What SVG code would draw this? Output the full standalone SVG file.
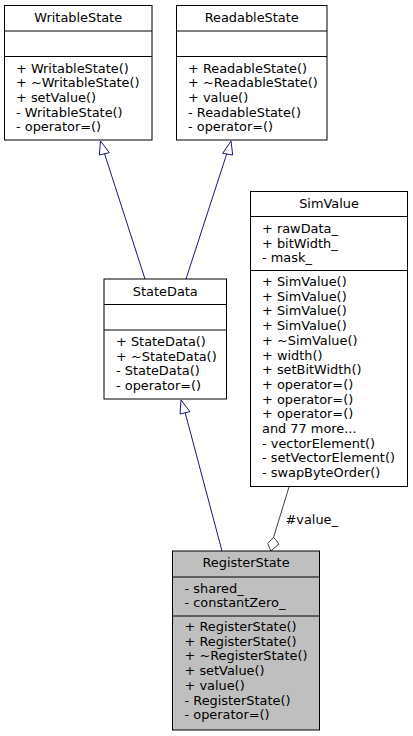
<svg xmlns="http://www.w3.org/2000/svg" width="413" height="736" viewBox="0 0 413 736">
<style>
text{font-family:"DejaVu Sans","Noto Sans",sans-serif;font-size:12.9px;fill:#000}
.t{text-anchor:middle}
.box{fill:#fff;stroke:#000;stroke-width:1}
.cur{fill:#bfbfbf;stroke:#000;stroke-width:1}
.sep{stroke:#000;stroke-width:1}
.inh{fill:none;stroke:#191970;stroke-width:1}
.ah{fill:#fff;stroke:#191970;stroke-width:1}
.use{fill:none;stroke:#404040;stroke-width:1}
.dia{fill:#fff;stroke:#404040;stroke-width:1}
</style>
<rect width="413" height="736" fill="#fff"/>
<g id="edges">
<path class="inh" d="M145,279 L104,152"/>
<polygon class="ah" points="100.5,141 99.3,155 109.3,152.7"/>
<path class="inh" d="M186,279 L227,153"/>
<polygon class="ah" points="231,141 222.7,153.3 232.7,155"/>
<path class="inh" d="M222,551 L185,412"/>
<polygon class="ah" points="181,400 180,414 190,411.7"/>
<path class="use" d="M289,487 L273.5,537.5"/>
<polygon class="dia" points="273.5,537.3 279,544 270.8,551 267.7,543.5"/>
<text x="285.5" y="523.5">#value_</text>
</g>
<g id="WritableState">
<rect class="box" x="4.5" y="5.5" width="147.5" height="134.5"/>
<line class="sep" x1="4.5" y1="31" x2="152" y2="31"/>
<line class="sep" x1="4.5" y1="56.5" x2="152" y2="56.5"/>
<text class="t" x="78.2" y="22">WritableState</text>
<text x="16" y="72.5">+ WritableState()</text>
<text x="16" y="87.2">+ ~WritableState()</text>
<text x="16" y="101.9">+ setValue()</text>
<text x="16" y="116.6">- WritableState()</text>
<text x="16" y="131.3">- operator=()</text>
</g>
<g id="ReadableState">
<rect class="box" x="176.5" y="5.5" width="150.5" height="134.5"/>
<line class="sep" x1="176.5" y1="31" x2="327" y2="31"/>
<line class="sep" x1="176.5" y1="56.5" x2="327" y2="56.5"/>
<text class="t" x="251.7" y="22">ReadableState</text>
<text x="188" y="72.5">+ ReadableState()</text>
<text x="188" y="87.2">+ ~ReadableState()</text>
<text x="188" y="101.9">+ value()</text>
<text x="188" y="116.6">- ReadableState()</text>
<text x="188" y="131.3">- operator=()</text>
</g>
<g id="StateData">
<rect class="box" x="104" y="279" width="122.5" height="120"/>
<line class="sep" x1="104" y1="304.5" x2="226.5" y2="304.5"/>
<line class="sep" x1="104" y1="330" x2="226.5" y2="330"/>
<text class="t" x="165.3" y="295.5">StateData</text>
<text x="116" y="346">+ StateData()</text>
<text x="116" y="360.7">+ ~StateData()</text>
<text x="116" y="375.4">- StateData()</text>
<text x="116" y="390.1">- operator=()</text>
</g>
<g id="SimValue">
<rect class="box" x="250.5" y="191.5" width="157" height="295"/>
<line class="sep" x1="250.5" y1="216.5" x2="407.5" y2="216.5"/>
<line class="sep" x1="250.5" y1="270.5" x2="407.5" y2="270.5"/>
<text class="t" x="329" y="207.5">SimValue</text>
<text x="262" y="233">+ rawData_</text>
<text x="262" y="247.5">+ bitWidth_</text>
<text x="262" y="262">- mask_</text>
<text x="262" y="286">+ SimValue()</text>
<text x="262" y="300.7">+ SimValue()</text>
<text x="262" y="315.4">+ SimValue()</text>
<text x="262" y="330.1">+ SimValue()</text>
<text x="262" y="344.8">+ ~SimValue()</text>
<text x="262" y="359.5">+ width()</text>
<text x="262" y="374.2">+ setBitWidth()</text>
<text x="262" y="388.9">+ operator=()</text>
<text x="262" y="403.6">+ operator=()</text>
<text x="262" y="418.3">+ operator=()</text>
<text x="262" y="433">and 77 more...</text>
<text x="262" y="447.7">- vectorElement()</text>
<text x="262" y="462.4">- setVectorElement()</text>
<text x="262" y="477.1">- swapByteOrder()</text>
</g>
<g id="RegisterState">
<rect class="cur" x="172.5" y="551" width="147" height="179"/>
<line class="sep" x1="172.5" y1="577" x2="319.5" y2="577"/>
<line class="sep" x1="172.5" y1="616" x2="319.5" y2="616"/>
<text class="t" x="246" y="567">RegisterState</text>
<text x="184.5" y="592.5">- shared_</text>
<text x="184.5" y="607.2">- constantZero_</text>
<text x="184.5" y="631">+ RegisterState()</text>
<text x="184.5" y="645.7">+ RegisterState()</text>
<text x="184.5" y="660.4">+ ~RegisterState()</text>
<text x="184.5" y="675.1">+ setValue()</text>
<text x="184.5" y="689.8">+ value()</text>
<text x="184.5" y="704.5">- RegisterState()</text>
<text x="184.5" y="719.2">- operator=()</text>
</g>
</svg>
